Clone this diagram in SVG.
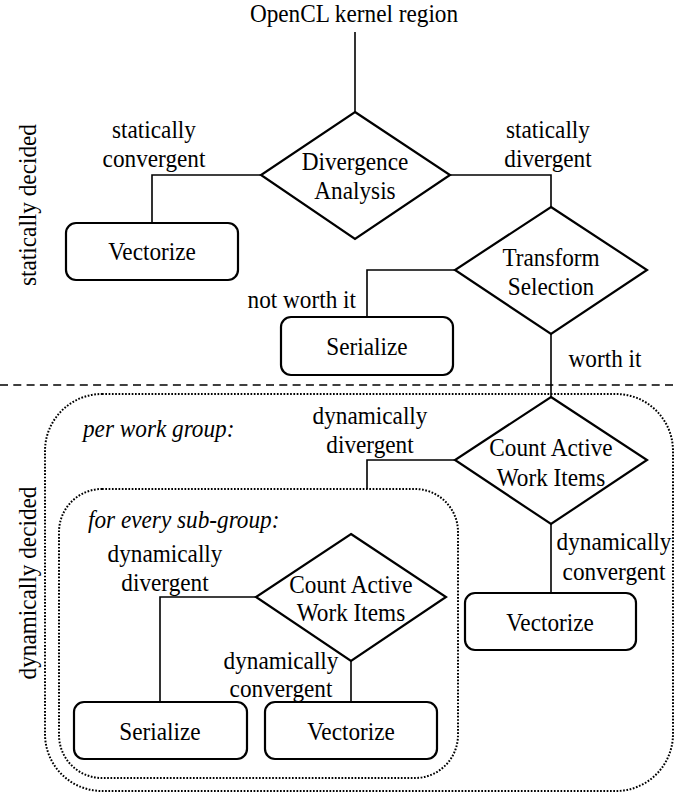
<svg xmlns="http://www.w3.org/2000/svg" width="674" height="798" viewBox="0 0 674 798" font-family="'Liberation Serif', 'Times New Roman', Times, 'DejaVu Serif', serif">
<style>
text{font-family:'Liberation Serif','Times New Roman',Times,'DejaVu Serif',serif;font-size:25px;fill:#000}
.c{text-anchor:middle}
.i{font-style:italic}
.box{fill:#fff;stroke:#000;stroke-width:2.2}
.dia{fill:#fff;stroke:#000;stroke-width:2.2}
.ln{fill:none;stroke:#000;stroke-width:1.6}
.dot{fill:none;stroke:#000;stroke-width:2;stroke-dasharray:1.7 1.6}
.dash{fill:none;stroke:#000;stroke-width:1.6;stroke-dasharray:8 5.3}
</style>
<rect width="674" height="798" fill="#fff"/>
<g id="regions">
<path class="dash" d="M0,385H674"/>
<rect class="dot" x="45" y="394" width="628" height="397" rx="57" ry="57"/>
<rect class="dot" x="59" y="489" width="399" height="289" rx="43" ry="43"/>
<text class="c" transform="translate(36,205) rotate(-90) scale(0.93,1)">statically decided</text>
<text class="c" transform="translate(36,583) rotate(-90) scale(0.93,1)">dynamically decided</text>
<text class="i" transform="translate(83,437) scale(0.93,1)">per work group:</text>
<text class="i" transform="translate(88,528) scale(0.93,1)">for every sub-group:</text>
</g>
<g id="connectors">
<path class="ln" d="M355,32V112"/>
<path class="ln" d="M261,175H152V223"/>
<path class="ln" d="M450,175H551V207"/>
<path class="ln" d="M455,270H367V317"/>
<path class="ln" d="M551,334V397"/>
<path class="ln" d="M455,460H367V489"/>
<path class="ln" d="M551,524V593"/>
<path class="ln" d="M256,597H160V702"/>
<path class="ln" d="M351,661V702"/>
<text class="c" transform="translate(154,138) scale(0.93,1)">statically</text>
<text class="c" transform="translate(154,167) scale(0.93,1)">convergent</text>
<text class="c" transform="translate(548,138) scale(0.93,1)">statically</text>
<text class="c" transform="translate(548,167) scale(0.93,1)">divergent</text>
<text text-anchor="end" transform="translate(356,308) scale(0.93,1)">not worth it</text>
<text class="c" transform="translate(605,367) scale(0.93,1)">worth it</text>
<text class="c" transform="translate(370,424) scale(0.93,1)">dynamically</text>
<text class="c" transform="translate(370,453) scale(0.93,1)">divergent</text>
<text class="c" transform="translate(614,550) scale(0.93,1)">dynamically</text>
<text class="c" transform="translate(614,580) scale(0.93,1)">convergent</text>
<text class="c" transform="translate(165,562) scale(0.93,1)">dynamically</text>
<text class="c" transform="translate(165,591) scale(0.93,1)">divergent</text>
<text class="c" transform="translate(281,669) scale(0.93,1)">dynamically</text>
<text class="c" transform="translate(281,697) scale(0.93,1)">convergent</text>
</g>
<g id="start"><text class="c" transform="translate(354,22) scale(0.93,1)">OpenCL kernel region</text></g>
<g id="divergence-analysis">
<polygon class="dia" points="355,112 450,175 355,239 261,175"/>
<text class="c" transform="translate(355,170) scale(0.93,1)">Divergence</text>
<text class="c" transform="translate(355,199) scale(0.93,1)">Analysis</text>
</g>
<g id="vectorize-static">
<rect class="box" x="66" y="223" width="172" height="57" rx="10"/>
<text class="c" transform="translate(152,260) scale(0.93,1)">Vectorize</text>
</g>
<g id="transform-selection">
<polygon class="dia" points="551,207 647,270 551,334 455,270"/>
<text class="c" transform="translate(551,266) scale(0.93,1)">Transform</text>
<text class="c" transform="translate(551,295) scale(0.93,1)">Selection</text>
</g>
<g id="serialize-static">
<rect class="box" x="281" y="317" width="172" height="58" rx="10"/>
<text class="c" transform="translate(367,355) scale(0.93,1)">Serialize</text>
</g>
<g id="count-active-wg">
<polygon class="dia" points="551,397 647,460 551,524 455,460"/>
<text class="c" transform="translate(551,456) scale(0.93,1)">Count Active</text>
<text class="c" transform="translate(551,486) scale(0.93,1)">Work Items</text>
</g>
<g id="vectorize-wg">
<rect class="box" x="465" y="593" width="171" height="57" rx="10"/>
<text class="c" transform="translate(550,631) scale(0.93,1)">Vectorize</text>
</g>
<g id="count-active-sg">
<polygon class="dia" points="351,534 446,597 351,661 256,597"/>
<text class="c" transform="translate(351,593) scale(0.93,1)">Count Active</text>
<text class="c" transform="translate(351,621) scale(0.93,1)">Work Items</text>
</g>
<g id="serialize-sg">
<rect class="box" x="74" y="702" width="173" height="57" rx="10"/>
<text class="c" transform="translate(160,740) scale(0.93,1)">Serialize</text>
</g>
<g id="vectorize-sg">
<rect class="box" x="265" y="702" width="172" height="57" rx="10"/>
<text class="c" transform="translate(351,740) scale(0.93,1)">Vectorize</text>
</g>
</svg>
